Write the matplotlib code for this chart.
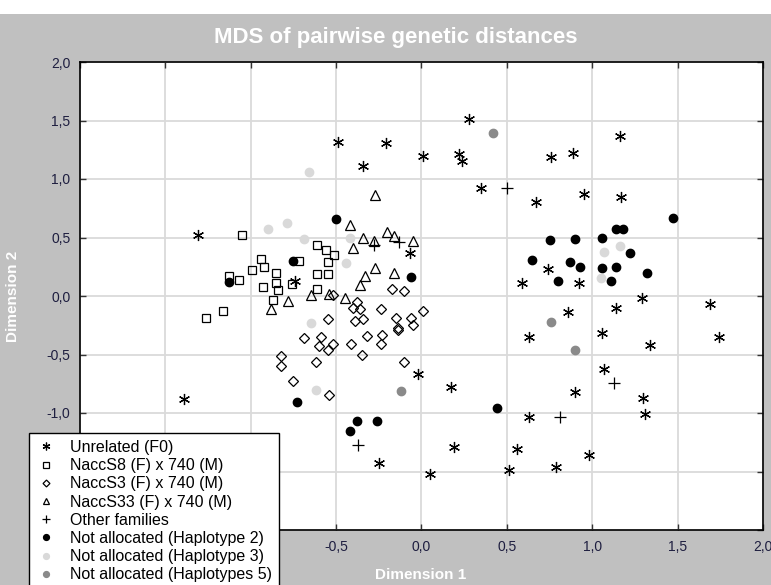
import numpy as np
import matplotlib
matplotlib.use("Agg")
import matplotlib.pyplot as plt
from matplotlib.patches import Rectangle
from matplotlib.ticker import FuncFormatter, MultipleLocator

plt.rcParams['font.family'] = ['Liberation Sans', 'DejaVu Sans']

# Unrelated (F0)
unrel_x = [-1.39, -1.31, -0.49, -0.34, -0.21, 0.01, 0.22, 0.24, 0.28, 0.35, 0.67, 0.76,
           0.89, 0.95, 1.17, 1.16, -0.07, -0.74, 0.74, 0.59, 0.92, 1.29, 1.69, 1.14,
           0.86, 0.63, 1.06, 1.74, 1.34, 1.07, 0.90, 1.30, 1.31, 0.63, -0.02, 0.17,
           0.19, 0.56, 0.98, 0.79, 0.51, 0.05, -0.25]
unrel_y = [-0.88, 0.52, 1.32, 1.11, 1.31, 1.20, 1.21, 1.15, 1.51, 0.92, 0.80, 1.19,
           1.22, 0.87, 0.85, 1.37, 0.37, 0.13, 0.23, 0.11, 0.11, -0.02, -0.07, -0.10,
           -0.14, -0.35, -0.32, -0.35, -0.42, -0.62, -0.82, -0.87, -1.01, -1.03, -0.67, -0.78,
           -1.29, -1.31, -1.36, -1.46, -1.49, -1.52, -1.43]

# NaccS8 (F) x 740 (M)
s8_x = [-1.05, -0.94, -0.92, -0.99, -0.85, -1.07, -1.13, -0.93, -0.85, -0.84, -0.76,
        -0.87, -1.16, -1.26, -0.72, -0.61, -0.56, -0.51, -0.55, -0.61, -0.55, -0.61]
s8_y = [0.52, 0.32, 0.25, 0.22, 0.20, 0.14, 0.17, 0.08, 0.11, 0.05, 0.10,
        -0.03, -0.13, -0.19, 0.30, 0.44, 0.39, 0.35, 0.29, 0.19, 0.19, 0.06]

# NaccS3 (F) x 740 (M)
s3_x = [-0.52, -0.17, -0.10, -0.38, -0.40, -0.36, -0.24, 0.01, -0.55, -0.39, -0.34,
        -0.15, -0.06, -0.05, -0.14, -0.14, -0.32, -0.23, -0.69, -0.59, -0.60, -0.55,
        -0.52, -0.41, -0.24, -0.35, -0.10, -0.82, -0.82, -0.62, -0.75, -0.54]
s3_y = [0.01, 0.06, 0.04, -0.05, -0.10, -0.11, -0.11, -0.13, -0.20, -0.21, -0.20,
        -0.19, -0.19, -0.25, -0.27, -0.29, -0.34, -0.33, -0.36, -0.35, -0.43, -0.46,
        -0.41, -0.41, -0.41, -0.50, -0.56, -0.51, -0.60, -0.56, -0.73, -0.85]

# NaccS33 (F) x 740 (M)
s33_x = [-0.27, -0.42, -0.34, -0.28, -0.40, -0.20, -0.16, -0.05, -0.27, -0.33, -0.16,
         -0.36, -0.45, -0.54, -0.65, -0.78, -0.88]
s33_y = [0.86, 0.61, 0.50, 0.47, 0.41, 0.55, 0.51, 0.47, 0.24, 0.17, 0.20,
         0.09, -0.02, 0.02, 0.01, -0.04, -0.11]

# Other families
other_x = [-0.28, -0.13, 0.50, 1.13, 0.81, -0.37]
other_y = [0.44, 0.46, 0.92, -0.74, -1.03, -1.27]

# Not allocated (Haplotype 2)
h2_x = [-0.50, -0.75, -1.13, -0.06, -0.73, -0.38, -0.26, -0.42, 0.44, 1.47, 1.14, 1.18,
        0.75, 0.90, 1.06, 1.22, 0.65, 0.87, 0.93, 1.06, 1.14, 1.32, 0.80, 1.11]
h2_y = [0.66, 0.30, 0.12, 0.16, -0.91, -1.07, -1.07, -1.15, -0.96, 0.67, 0.57, 0.57,
        0.48, 0.49, 0.50, 0.37, 0.31, 0.29, 0.25, 0.24, 0.25, 0.20, 0.13, 0.13]

# Not allocated (Haplotype 3)
h3_x = [-0.66, -0.90, -0.79, -0.69, -0.42, -0.44, -0.65, -0.62, 1.07, 1.16, 1.05]
h3_y = [1.06, 0.57, 0.62, 0.49, 0.50, 0.28, -0.23, -0.80, 0.38, 0.43, 0.15]

# Not allocated (Haplotypes 5)
h5_x = [0.42, -0.12, 0.76, 0.90]
h5_y = [1.39, -0.81, -0.22, -0.46]

bg = '#c0c0c0'
tick_col = '#1e1e40'

fig = plt.figure(figsize=(7.71, 5.85), dpi=100)
fig.patch.set_facecolor('white')
fig.patches.append(Rectangle((0, 0), 1, 1 - 14 / 585, transform=fig.transFigure,
                             facecolor=bg, edgecolor='none', zorder=-10))

ax = fig.add_axes([80 / 771, 55 / 585, 683 / 771, 468 / 585])
ax.set_facecolor('white')
ax.set_xlim(-2, 2)
ax.set_ylim(-2, 2)
ax.xaxis.set_major_locator(MultipleLocator(0.5))
ax.yaxis.set_major_locator(MultipleLocator(0.5))
fmt = FuncFormatter(lambda v, p: ('%.1f' % v).replace('.', ',').replace('-0,0', '0,0'))
ax.xaxis.set_major_formatter(fmt)
ax.yaxis.set_major_formatter(fmt)
ax.grid(True, color='#dadada', linewidth=1.3)
ax.set_axisbelow(True)
ax.tick_params(direction='in', length=4, width=1, colors='#333333', labelcolor=tick_col,
               labelsize=10, top=True, right=True, pad=7)
for sp in ax.spines.values():
    sp.set_color('black')
    sp.set_linewidth(1.2)

mew = 0.9
ax.plot(unrel_x, unrel_y, ls='none', marker=(6, 2, 0), ms=8, mew=mew, color='black',
        label='Unrelated (F0)')
ax.plot(s8_x, s8_y, ls='none', marker='s', ms=6, mew=mew, mfc='none', mec='black',
        label='NaccS8 (F) x 740 (M)')
ax.plot(s3_x, s3_y, ls='none', marker='D', ms=5, mew=mew, mfc='none', mec='black',
        label='NaccS3 (F) x 740 (M)')
ax.plot(s33_x, s33_y, ls='none', marker='^', ms=6.5, mew=mew, mfc='none', mec='black',
        label='NaccS33 (F) x 740 (M)')
ax.plot(other_x, other_y, ls='none', marker='+', ms=8, mew=mew, color='black',
        label='Other families')
ax.plot(h2_x, h2_y, ls='none', marker='o', ms=6, color='black',
        label='Not allocated (Haplotype 2)')
ax.plot(h3_x, h3_y, ls='none', marker='o', ms=6, color='#d9d9d9',
        label='Not allocated (Haplotype 3)')
ax.plot(h5_x, h5_y, ls='none', marker='o', ms=6, color='#8a8a8a',
        label='Not allocated (Haplotypes 5)')

fig.text(396 / 771, 1 - 38 / 585, 'MDS of pairwise genetic distances', color='white',
         fontsize=16, fontweight='bold', ha='center', va='center')
fig.text(421 / 771, 1 - 575 / 585, 'Dimension 1', color='white', fontsize=11,
         fontweight='bold', ha='center', va='center')
fig.text(13 / 771, 1 - 296 / 585, 'Dimension 2', color='white', fontsize=11,
         fontweight='bold', ha='center', va='center', rotation=90)

leg = fig.legend(loc='upper left', bbox_to_anchor=(29 / 771, 1 - 433 / 585),
                 frameon=True, fancybox=False, edgecolor='black', framealpha=1,
                 prop={'size': 11.5},
                 handlelength=1.25, handletextpad=0.9, labelspacing=0.2,
                 borderpad=0.44, borderaxespad=0, markerscale=0.7)
leg.get_frame().set_linewidth(1)

fig.savefig('out.png', dpi=100, facecolor=fig.get_facecolor())
